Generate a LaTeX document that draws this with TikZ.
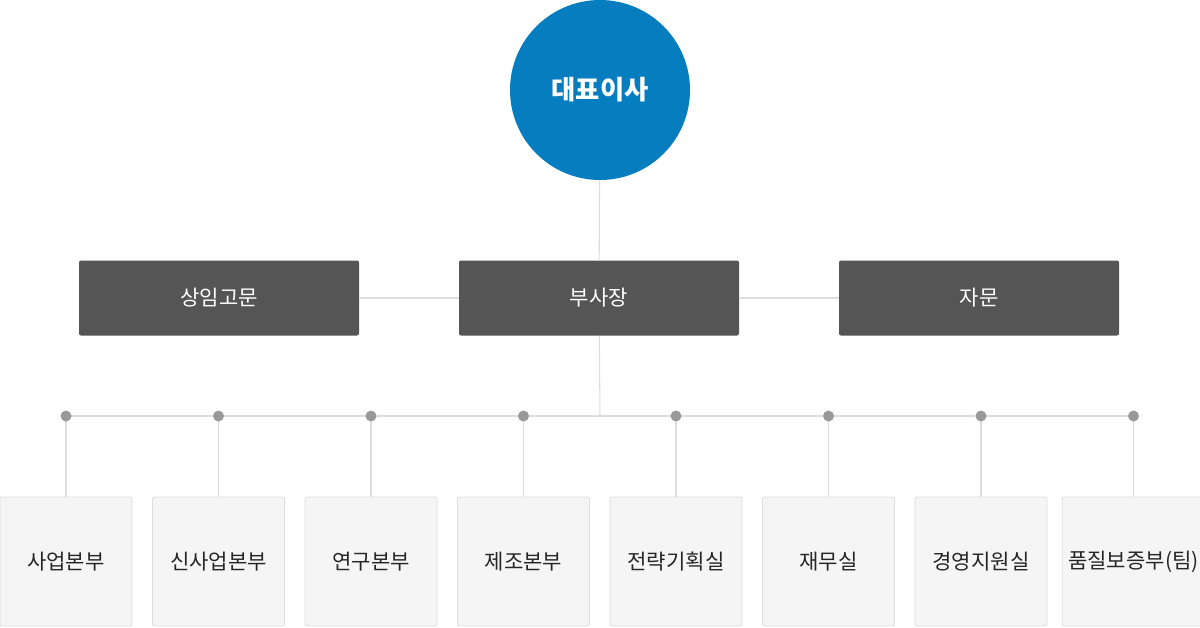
\documentclass[tikz,border=0pt]{standalone}
\usepackage{fontspec}
\setmainfont{Noto Sans CJK KR}
\usetikzlibrary{positioning}
\definecolor{ceoblue}{HTML}{067DBE}
\definecolor{darkbox}{HTML}{555555}
\definecolor{linegray}{HTML}{DDDDDD}
\definecolor{dotgray}{HTML}{999999}
\definecolor{lightbox}{HTML}{F5F5F5}
\tikzset{
  ceo/.style={circle,fill=ceoblue,minimum size=180\px,inner sep=0pt,
    text=white,font=\fontsize{15}{18}\selectfont\bfseries},
  topbox/.style={rounded corners=2\px,fill=darkbox,minimum width=280\px,
    minimum height=75\px,text=white,font=\fontsize{12}{14}\selectfont},
  deptbox/.style={rounded corners=2\px,fill=lightbox,draw=linegray,
    minimum width=132\px,minimum height=129\px,text=black!85,
    font=\fontsize{12}{14}\selectfont},
  link/.style={draw=linegray,line width=0.6pt}
}
\newlength{\px}\setlength{\px}{0.02cm}
\begin{document}
\begin{tikzpicture}[x=0.02cm,y=-0.02cm]
\useasboundingbox (0,0) rectangle (1200,627);
\node[ceo] (ceo) at (600,90) {대표이사};
\node[topbox] (adv) at (219,298) {상임고문};
\node[topbox] (vp) at (599,298) {부사장};
\node[topbox] (cons) at (979,298) {자문};
\draw[link] (ceo) -- (vp);
\draw[link] (adv) -- (vp);
\draw[link] (vp) -- (cons);
\coordinate (hub) at (600,416);
\draw[link] (vp) -- (hub);
\draw[link] (66,416) -- (1133,416);
\foreach \x/\n/\t in {66/d1/사업본부, 218.5/d2/신사업본부, 371/d3/연구본부,
  523.5/d4/제조본부, 676/d5/전략기획실, 828.5/d6/재무실,
  981/d7/경영지원실, 1133.5/d8/품질보증부(팀)} {
  \node[deptbox] (\n) at (\x,561.5) {\t};
  \coordinate (\n dot) at (\x,416);
  \draw[link] (\n dot) -- (\n);
  \fill[dotgray] (\n dot) circle (5.5);
}
\end{tikzpicture}
\end{document}
